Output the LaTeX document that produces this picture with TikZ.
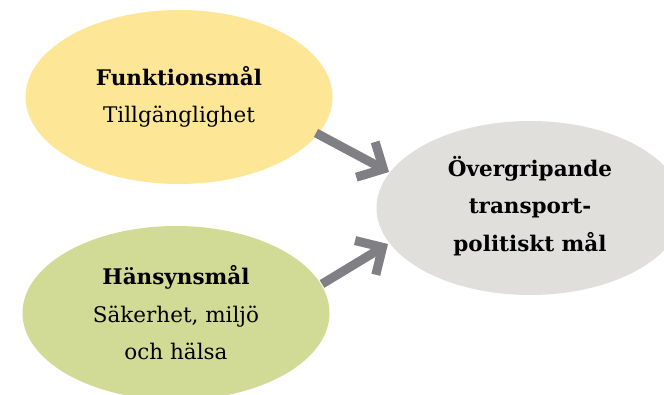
\documentclass[tikz,border=0pt]{standalone}
\usepackage{fontspec}
\setmainfont{DejaVu Serif}
\usetikzlibrary{arrows.meta,shapes.geometric}
\definecolor{goalyellow}{RGB}{253,230,150}
\definecolor{goalgreen}{RGB}{210,219,150}
\definecolor{goalgray}{RGB}{225,223,220}
\definecolor{arrowgray}{RGB}{128,128,132}
\begin{document}
\begin{tikzpicture}[x=1pt,y=-1pt,
  goal/.style={ellipse,draw=none,inner sep=0pt,minimum width=307pt,minimum height=174pt,align=center,font=\fontsize{21.5}{37.5}\selectfont},
  bigarrow/.style={draw=arrowgray,line width=9pt,-{Straight Barb[length=20pt,width=40pt]}}]
\clip (0,0) rectangle (664,395);
\useasboundingbox (0,0) rectangle (664,395);
\node[goal,fill=goalyellow] (fm) at (179,97) {\textbf{Funktionsmål}\\Tillgänglighet};
\node[goal,fill=goalgreen] (hm) at (176,313) {\textbf{Hänsynsmål}\\Säkerhet, miljö\\och hälsa};
\node[goal,fill=goalgray] (om) at (530,208) {};
\node[align=center,font=\fontsize{21.5}{37.5}\selectfont\bfseries] (omt) at (530,206) {Övergripande\\transport-\\politiskt mål};
\coordinate (a1s) at (316,133);
\coordinate (a1e) at (389,172);
\coordinate (a2s) at (322,284);
\coordinate (a2e) at (388,244);
\draw[bigarrow] (a1s) -- (a1e);
\draw[bigarrow] (a2s) -- (a2e);
\end{tikzpicture}
\end{document}
